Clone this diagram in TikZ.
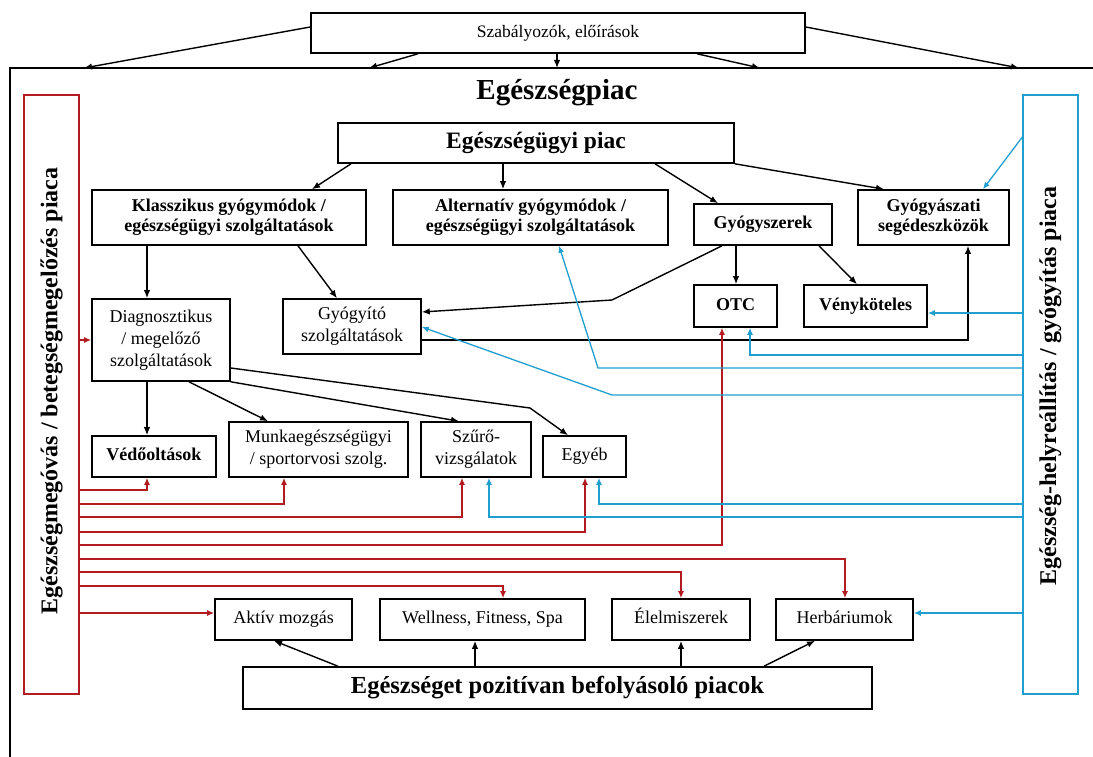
\documentclass[tikz,border=0pt]{standalone}
\usepackage{fontspec}
\setmainfont{Liberation Serif}
\usetikzlibrary{arrows.meta,calc}
\definecolor{myred}{RGB}{178,28,32}
\definecolor{myblue}{RGB}{32,158,206}
\begin{document}
\begin{tikzpicture}[x=1pt,y=-1pt,
  bx/.style={draw,line width=1.6pt,align=center,inner sep=0pt,font=\fontsize{18}{20}\selectfont\bfseries},
  rx/.style={bx,font=\fontsize{18}{22}\selectfont},
  one/.style={text height=12.5pt,text depth=4pt},
  ar/.style={line width=1.4pt,-{Latex[length=8pt,width=6.5pt]}},
  rd/.style={myred,line width=1.3pt,-{Latex[length=7pt,width=6pt]}},
  bl/.style={myblue,line width=1.3pt,-{Latex[length=7pt,width=6pt]}}]
\useasboundingbox (0,0) rectangle (1093,757);
% frame
\draw[line width=1.6pt] (10,757) -- (10,68) -- (1093,68);
\coordinate (f1) at (84,68);
\coordinate (f2) at (369,68);
\coordinate (f3) at (557,68);
\coordinate (f4) at (760,68);
\coordinate (f5) at (1019,68);
% boxes
\node[rx,one,minimum width=494pt,minimum height=40pt,font=\fontsize{17.5}{20}\selectfont] (szab) at (558,33) {Szabályozók, előírások};
\node[font=\fontsize{29}{32}\selectfont\bfseries] (title) at (557,93) {Egészségpiac};
\node[draw=myred,line width=1.3pt,minimum width=55pt,minimum height=599pt,inner sep=0pt] (red) at (51.5,394.5) {};
\node[rotate=90,font=\fontsize{24}{26}\selectfont\bfseries] (redt) at (51.5,391) {Egészségmegóvás / betegségmegelőzés piaca};
\node[draw=myblue,line width=1.3pt,minimum width=55pt,minimum height=599pt,inner sep=0pt] (blue) at (1050.5,394.5) {};
\node[rotate=90,font=\fontsize{24}{26}\selectfont\bfseries] (bluet) at (1050.5,386) {Egészség-helyreállítás / gyógyítás piaca};
\node[bx,minimum width=396pt,minimum height=40pt,font=\fontsize{23.5}{26}\selectfont\bfseries] (eup) at (536,143) {Egészségügyi piac};
\node[bx,minimum width=274pt,minimum height=55pt] (klas) at (229,217.5) {Klasszikus gyógymódok /\\egészségügyi szolgáltatások};
\node[bx,minimum width=275pt,minimum height=55pt] (alt) at (530.5,217.5) {Alternatív gyógymódok /\\egészségügyi szolgáltatások};
\node[bx,one,minimum width=138pt,minimum height=41pt] (gysz) at (763,224.5) {Gyógyszerek};
\node[bx,minimum width=151pt,minimum height=55pt] (gyasz) at (933.5,217.5) {Gyógyászati\\segédeszközök};
\node[rx,minimum width=138pt,minimum height=82pt] (diag) at (161,340) {Diagnosztikus\\/ megelőző\\szolgáltatások};
\node[rx,minimum width=138pt,minimum height=55pt] (gyit) at (352,326.5) {Gyógyító\\szolgáltatások};
\node[bx,one,minimum width=83pt,minimum height=42pt] (otc) at (735.5,306) {OTC};
\node[bx,one,minimum width=123pt,minimum height=42pt] (veny) at (865.5,306) {Vényköteles};
\node[bx,one,minimum width=124pt,minimum height=41pt] (ved) at (154,456.5) {Védőoltások};
\node[rx,minimum width=179pt,minimum height=55pt] (munka) at (318.5,449.5) {Munkaegészségügyi\\/ sportorvosi szolg.};
\node[rx,minimum width=110pt,minimum height=55pt] (szuro) at (476,449.5) {Szűrő-\\vizsgálatok};
\node[rx,one,minimum width=83pt,minimum height=41pt] (egyeb) at (584.5,456.5) {Egyéb};
\node[rx,one,minimum width=137pt,minimum height=41pt] (aktiv) at (283.5,619.5) {Aktív mozgás};
\node[rx,one,minimum width=205pt,minimum height=41pt] (well) at (482.5,619.5) {Wellness, Fitness, Spa};
\node[rx,one,minimum width=138pt,minimum height=41pt] (elel) at (681,619.5) {Élelmiszerek};
\node[rx,one,minimum width=137pt,minimum height=41pt] (herb) at (844.5,619.5) {Herbáriumok};
\node[bx,minimum width=629pt,minimum height=42pt,font=\fontsize{24.5}{27}\selectfont\bfseries] (pos) at (557.5,688) {Egészséget pozitívan befolyásoló piacok};
% regulators arrows
\draw[ar] ([yshift=6pt]szab.west) -- (f1);
\draw[ar] (szab.south -| 418,0) -- (f2);
\draw[ar] (szab.south -| 557,0) -- (f3);
\draw[ar] (szab.south -| 697,0) -- (f4);
\draw[ar] ([yshift=6pt]szab.east) -- (f5);
% black connectors
\draw[ar] (eup.south -| 351,0) -- (klas.north -| 312,0);
\draw[ar] (eup.south -| 503,0) -- (alt.north -| 503,0);
\draw[ar] (eup.south -| 655,0) -- (gysz.north -| 718,0);
\draw[ar] (eup.south east) -- (gyasz.north -| 884,0);
\draw[ar] (klas.south -| 147,0) -- (diag.north -| 147,0);
\draw[ar] (klas.south -| 298,0) -- (gyit.north -| 337,0);
\draw[ar] (gysz.south -| 722,0) -- (612,300) -- (gyit.east |- 0,312);
\draw[ar] (gysz.south -| 736,0) -- (otc.north -| 736,0);
\draw[ar] (gysz.south -| 819,0) -- (veny.north -| 857,0);
\draw[ar] (gyit.east |- 0,340) -| (gyasz.south -| 968,0);
\draw[ar] (diag.south -| 147,0) -- (ved.north -| 147,0);
\draw[ar] (diag.south -| 189,0) -- (munka.north -| 268,0);
\draw[ar] (diag.south east) -- (szuro.north -| 459,0);
\draw[ar] (diag.east |- 0,368) -- (530,408) -- (egyeb.north -| 568,0);
\draw[ar] (pos.north -| 338,0) -- (aktiv.south -| 274,0);
\draw[ar] (pos.north -| 475,0) -- (well.south -| 475,0);
\draw[ar] (pos.north -| 681,0) -- (elel.south -| 681,0);
\draw[ar] (pos.north -| 764,0) -- (herb.south -| 815,0);
% red connectors
\draw[rd] (red.east |- 0,340) -- (diag.west);
\draw[rd] (red.east |- 0,490) -| (ved.south -| 147,0);
\draw[rd] (red.east |- 0,504) -| (munka.south -| 284,0);
\draw[rd] (red.east |- 0,517) -| (szuro.south -| 462,0);
\draw[rd] (red.east |- 0,532) -| (egyeb.south -| 585,0);
\draw[rd] (red.east |- 0,545) -| (otc.south -| 722,0);
\draw[rd] (red.east |- 0,559) -| (herb.north -| 845,0);
\draw[rd] (red.east |- 0,572) -| (elel.north -| 681,0);
\draw[rd] (red.east |- 0,586) -| (well.north -| 503,0);
\draw[rd] (red.east |- 0,613) -- (aktiv.west |- 0,613);
% blue connectors
\draw[bl] (blue.west |- 0,137) -- (gyasz.north -| 983,0);
\draw[bl] (blue.west |- 0,313) -- (veny.east |- 0,313);
\draw[bl] (blue.west |- 0,355) -| (otc.south -| 750,0);
\draw[bl] (blue.west |- 0,368) -- (598,368) -- (alt.south -| 559,0);
\draw[bl] (blue.west |- 0,395) -- (612,395) -- (gyit.east |- 0,327);
\draw[bl] (blue.west |- 0,504) -| (egyeb.south -| 599,0);
\draw[bl] (blue.west |- 0,517) -| (szuro.south -| 489,0);
\draw[bl] (blue.west |- 0,613) -- (herb.east |- 0,613);
\end{tikzpicture}
\end{document}
